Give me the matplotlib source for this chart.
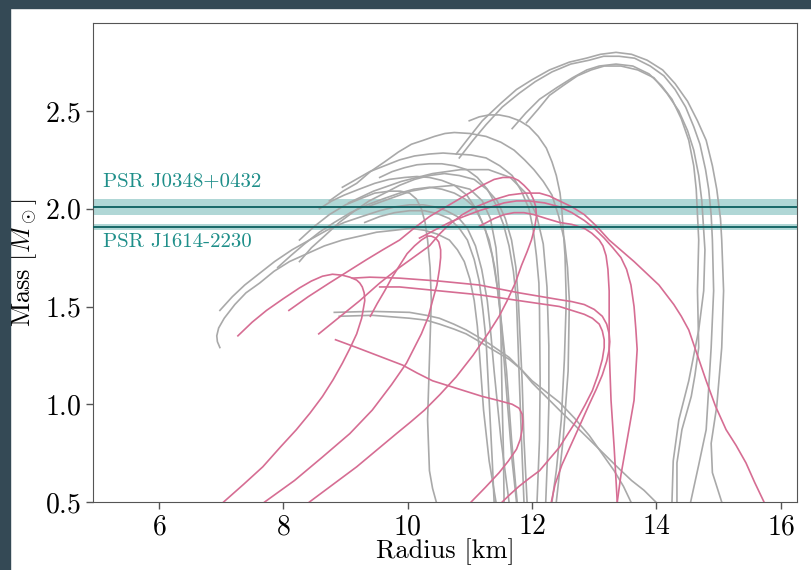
import matplotlib
matplotlib.use("Agg")
import matplotlib.pyplot as plt
from matplotlib.patches import Rectangle

plt.rcParams["font.family"] = "serif"
plt.rcParams["font.serif"] = ["cmr10"]
plt.rcParams["mathtext.fontset"] = "cm"
plt.rcParams["axes.formatter.use_mathtext"] = True

# mass-radius curves, radius in km and mass in solar masses
# grey: nucleonic models
gray_curves = [
    ([10.78, 11.00, 11.20, 11.50, 11.75, 12.00, 12.28, 12.60, 12.87, 13.10, 13.35, 13.60, 13.85, 14.10, 14.30, 14.50, 14.66, 14.80, 14.90, 14.97, 15.03, 15.05, 15.08, 15.05, 14.97, 14.88, 14.90, 15.05],
     [2.28, 2.37, 2.45, 2.54, 2.61, 2.66, 2.71, 2.75, 2.77, 2.79, 2.80, 2.79, 2.76, 2.71, 2.64, 2.55, 2.45, 2.35, 2.22, 2.10, 1.95, 1.84, 1.58, 1.29, 0.99, 0.80, 0.65, 0.50]),
    ([10.83, 11.05, 11.26, 11.52, 11.79, 12.05, 12.32, 12.62, 12.92, 13.15, 13.40, 13.65, 13.90, 14.12, 14.30, 14.47, 14.60, 14.70, 14.79, 14.84, 14.88, 14.90, 14.92, 14.88, 14.84, 14.80, 14.68, 14.55],
     [2.26, 2.35, 2.43, 2.52, 2.59, 2.65, 2.70, 2.74, 2.76, 2.78, 2.78, 2.77, 2.73, 2.68, 2.61, 2.52, 2.42, 2.33, 2.20, 2.10, 1.97, 1.84, 1.58, 1.29, 1.08, 0.87, 0.69, 0.50]),
    ([11.68, 11.90, 12.12, 12.40, 12.65, 12.88, 13.08, 13.35, 13.62, 13.88, 14.08, 14.25, 14.40, 14.52, 14.60, 14.64, 14.68, 14.66, 14.68, 14.62, 14.56, 14.41, 14.33, 14.33],
     [2.41, 2.49, 2.56, 2.62, 2.67, 2.71, 2.73, 2.74, 2.73, 2.69, 2.63, 2.56, 2.46, 2.35, 2.22, 2.10, 1.84, 1.58, 1.29, 1.15, 1.04, 0.87, 0.70, 0.50]),
    ([11.91, 12.10, 12.28, 12.50, 12.73, 12.95, 13.16, 13.43, 13.70, 13.96, 14.17, 14.36, 14.50, 14.60, 14.68, 14.73, 14.78, 14.76, 14.68, 14.60, 14.52, 14.36, 14.27, 14.25],
     [2.44, 2.51, 2.58, 2.63, 2.68, 2.71, 2.73, 2.73, 2.71, 2.67, 2.59, 2.50, 2.40, 2.30, 2.17, 2.04, 1.79, 1.58, 1.38, 1.25, 1.12, 0.92, 0.71, 0.50]),
    ([10.99, 11.15, 11.31, 11.47, 11.63, 11.80, 11.95, 12.10, 12.23, 12.32, 12.39, 12.45, 12.48, 12.53, 12.55, 12.52, 12.47, 12.39, 12.32],
     [2.45, 2.47, 2.48, 2.48, 2.47, 2.45, 2.42, 2.37, 2.31, 2.24, 2.17, 2.08, 1.99, 1.76, 1.53, 1.23, 0.92, 0.66, 0.50]),
    ([8.82, 9.43, 10.03, 10.30, 10.51, 10.74, 10.94, 11.13, 11.31, 11.47, 11.63, 11.82, 12.00, 12.22, 12.44, 12.68, 12.92, 13.16, 13.40, 13.60, 13.80, 13.99],
     [1.47, 1.475, 1.47, 1.455, 1.44, 1.41, 1.38, 1.345, 1.31, 1.275, 1.24, 1.18, 1.11, 1.04, 0.97, 0.895, 0.82, 0.745, 0.67, 0.61, 0.56, 0.50]),
    ([8.90, 9.43, 10.03, 10.30, 10.51, 10.74, 10.94, 11.13, 11.31, 11.47, 11.63, 11.82, 12.00, 12.22, 12.44, 12.68, 12.92, 13.12, 13.32, 13.47, 13.59],
     [1.45, 1.455, 1.44, 1.43, 1.41, 1.385, 1.36, 1.325, 1.29, 1.26, 1.23, 1.18, 1.12, 1.065, 1.01, 0.93, 0.84, 0.75, 0.66, 0.58, 0.50]),
    ([6.98, 6.94, 6.93, 6.96, 7.05, 7.22, 7.40, 7.62, 7.85, 8.10, 8.38, 8.66, 8.95, 9.23, 9.50, 9.79, 10.05, 10.27, 10.48, 10.67, 10.80, 10.91, 11.00, 11.07, 11.12, 11.15, 11.22, 11.31, 11.42],
     [1.29, 1.32, 1.35, 1.39, 1.44, 1.51, 1.57, 1.62, 1.68, 1.73, 1.77, 1.81, 1.84, 1.86, 1.88, 1.89, 1.90, 1.89, 1.87, 1.84, 1.79, 1.73, 1.64, 1.53, 1.40, 1.28, 0.97, 0.71, 0.50]),
    ([6.98, 7.18, 7.38, 7.62, 7.86, 8.14, 8.42, 8.70, 8.98, 9.26, 9.55, 9.80, 10.03, 10.25, 10.43, 10.62, 10.80, 10.96, 11.09, 11.19, 11.28, 11.34, 11.39, 11.50, 11.63],
     [1.48, 1.55, 1.61, 1.67, 1.73, 1.79, 1.84, 1.89, 1.93, 1.96, 1.99, 2.01, 2.02, 2.02, 2.01, 1.99, 1.96, 1.90, 1.81, 1.69, 1.53, 1.35, 1.17, 0.82, 0.50]),
    ([7.91, 8.12, 8.34, 8.58, 8.82, 9.08, 9.35, 9.60, 9.87, 10.10, 10.35, 10.55, 10.75, 10.92, 11.07, 11.20, 11.31, 11.40, 11.47, 11.53, 11.59, 11.67, 11.76],
     [1.70, 1.76, 1.82, 1.88, 1.93, 1.98, 2.02, 2.05, 2.08, 2.10, 2.11, 2.10, 2.08, 2.05, 2.01, 1.93, 1.84, 1.70, 1.53, 1.35, 1.17, 0.82, 0.50]),
    ([8.26, 8.45, 8.66, 8.90, 9.15, 9.38, 9.63, 9.87, 10.11, 10.35, 10.59, 10.83, 11.07, 11.27, 11.44, 11.57, 11.67, 11.74, 11.78, 11.84, 11.87, 11.92],
     [1.73, 1.80, 1.86, 1.93, 1.99, 2.04, 2.08, 2.12, 2.15, 2.17, 2.18, 2.17, 2.15, 2.10, 2.04, 1.95, 1.84, 1.70, 1.53, 1.12, 0.82, 0.50]),
    ([8.58, 8.78, 8.98, 9.22, 9.47, 9.70, 9.95, 10.15, 10.35, 10.55, 10.75, 10.95, 11.12, 11.25, 11.36, 11.44, 11.50, 11.60, 11.68, 11.75],
     [2.00, 2.04, 2.07, 2.10, 2.13, 2.15, 2.16, 2.165, 2.16, 2.145, 2.12, 2.07, 1.99, 1.89, 1.76, 1.60, 1.43, 1.02, 0.71, 0.50]),
    ([8.95, 9.17, 9.39, 9.63, 9.87, 10.11, 10.35, 10.57, 10.78, 11.02, 11.26, 11.48, 11.68, 11.83, 11.95, 12.02, 12.07, 12.11, 12.12, 12.13, 12.12, 12.08],
     [2.11, 2.15, 2.19, 2.22, 2.25, 2.27, 2.28, 2.285, 2.28, 2.275, 2.26, 2.22, 2.17, 2.09, 2.00, 1.89, 1.76, 1.62, 1.48, 1.12, 0.82, 0.50]),
    ([8.26, 8.50, 8.74, 9.00, 9.23, 9.47, 9.71, 9.88, 10.03, 10.14, 10.22, 10.28, 10.32, 10.36, 10.38, 10.35, 10.32, 10.35, 10.40, 10.46],
     [1.84, 1.91, 1.97, 2.02, 2.05, 2.08, 2.09, 2.09, 2.08, 2.05, 2.00, 1.93, 1.84, 1.70, 1.53, 1.23, 0.92, 0.66, 0.57, 0.50]),
    ([9.55, 9.75, 9.95, 10.15, 10.35, 10.55, 10.75, 10.95, 11.12, 11.28, 11.42, 11.54, 11.63, 11.70, 11.75, 11.79, 11.83, 11.87],
     [2.16, 2.19, 2.21, 2.225, 2.23, 2.23, 2.22, 2.20, 2.16, 2.10, 2.02, 1.92, 1.81, 1.68, 1.53, 1.17, 0.82, 0.50]),
    ([8.74, 8.96, 9.18, 9.40, 9.63, 9.85, 10.06, 10.25, 10.43, 10.60, 10.75, 11.00, 11.26, 11.50, 11.71, 11.88, 12.03, 12.18, 12.32, 12.43, 12.52, 12.57, 12.60, 12.58, 12.50, 12.39],
     [2.04, 2.09, 2.13, 2.19, 2.24, 2.29, 2.33, 2.35, 2.37, 2.385, 2.39, 2.385, 2.37, 2.34, 2.30, 2.25, 2.20, 2.14, 2.07, 1.96, 1.84, 1.70, 1.53, 1.17, 0.82, 0.50]),
    ([9.31, 9.55, 9.79, 10.03, 10.27, 10.48, 10.67, 10.83, 10.96, 11.07, 11.15, 11.21, 11.26, 11.31, 11.36, 11.39],
     [1.93, 1.96, 1.98, 1.99, 1.99, 1.975, 1.95, 1.90, 1.84, 1.74, 1.63, 1.48, 1.33, 1.02, 0.71, 0.50]),
    ([9.35, 9.70, 10.05, 10.40, 10.75, 11.00, 11.20, 11.33, 11.42, 11.47, 11.50, 11.52, 11.54, 11.55],
     [2.01, 2.05, 2.09, 2.11, 2.12, 2.10, 2.04, 1.95, 1.80, 1.60, 1.35, 1.00, 0.75, 0.50]),
    ([9.05, 9.45, 9.90, 10.40, 10.85, 11.30, 11.65, 11.90, 12.07, 12.18, 12.24, 12.27, 12.27, 12.25, 12.22],
     [2.03, 2.09, 2.14, 2.18, 2.20, 2.20, 2.16, 2.08, 1.97, 1.82, 1.60, 1.30, 1.00, 0.75, 0.50]),
]

# pink: models with a phase transition
pink_curves = [
    ([7.04, 7.36, 7.67, 7.95, 8.21, 8.43, 8.63, 8.80, 8.95, 9.07, 9.18, 9.26, 9.31, 9.30, 9.27, 9.23, 9.18, 9.07, 8.95, 8.79, 8.63, 8.45, 8.26, 8.00, 7.73, 7.50, 7.27],
     [0.50, 0.59, 0.68, 0.78, 0.87, 0.955, 1.04, 1.125, 1.21, 1.285, 1.36, 1.44, 1.53, 1.57, 1.60, 1.62, 1.635, 1.65, 1.66, 1.665, 1.655, 1.63, 1.595, 1.54, 1.48, 1.42, 1.35]),
    ([7.70, 8.18, 8.63, 9.07, 9.43, 9.74, 9.98, 10.22, 10.33, 10.40, 10.47, 10.51, 10.53, 10.53, 10.50, 10.45, 10.38, 10.32, 10.22, 10.11, 9.99, 9.87, 9.75, 9.63, 9.51, 9.40],
     [0.50, 0.61, 0.73, 0.85, 0.97, 1.10, 1.21, 1.36, 1.445, 1.53, 1.61, 1.69, 1.75, 1.79, 1.83, 1.85, 1.86, 1.86, 1.84, 1.81, 1.77, 1.71, 1.65, 1.58, 1.515, 1.45]),
    ([8.42, 8.80, 9.18, 9.50, 9.82, 10.05, 10.27, 10.52, 10.78, 11.05, 11.31, 11.47, 11.60, 11.73, 11.83, 11.92, 11.99, 12.04, 12.07, 12.06, 12.02, 11.96, 11.87, 11.78, 11.68, 11.53, 11.39, 11.20, 10.99, 10.67, 10.35, 10.10, 9.87, 9.60, 9.34, 9.04, 8.74, 8.40, 8.09],
     [0.50, 0.59, 0.68, 0.765, 0.85, 0.91, 0.97, 1.05, 1.14, 1.25, 1.37, 1.45, 1.53, 1.62, 1.71, 1.78, 1.84, 1.90, 1.96, 2.01, 2.05, 2.09, 2.12, 2.145, 2.16, 2.16, 2.15, 2.12, 2.08, 2.02, 1.96, 1.90, 1.84, 1.79, 1.74, 1.68, 1.62, 1.55, 1.48]),
    ([11.02, 11.25, 11.47, 11.62, 11.75, 11.81, 11.84, 11.85, 11.84, 11.79, 11.68, 11.45, 11.20, 10.80, 10.40, 10.15, 9.92, 9.55, 9.18, 8.84],
     [0.50, 0.575, 0.65, 0.71, 0.77, 0.82, 0.87, 0.91, 0.95, 0.98, 1.00, 1.02, 1.04, 1.08, 1.12, 1.16, 1.20, 1.245, 1.29, 1.33]),
    ([12.31, 12.37, 12.48, 12.58, 12.68, 12.80, 12.92, 13.03, 13.13, 13.20, 13.24, 13.25, 13.24, 13.20, 13.13, 13.00, 12.84, 12.64, 12.44, 11.79, 11.15, 10.51, 9.87, 9.39, 9.11],
     [0.50, 0.59, 0.69, 0.76, 0.83, 0.915, 1.00, 1.075, 1.15, 1.22, 1.28, 1.32, 1.36, 1.41, 1.45, 1.485, 1.51, 1.525, 1.535, 1.57, 1.61, 1.63, 1.645, 1.65, 1.645]),
    ([11.52, 11.65, 11.79, 11.95, 12.12, 12.28, 12.44, 12.58, 12.72, 12.85, 12.97, 13.06, 13.13, 13.16, 13.16, 13.13, 13.08, 12.97, 12.84, 12.64, 12.44, 11.79, 11.15, 10.51, 9.87, 9.55],
     [0.50, 0.54, 0.58, 0.62, 0.66, 0.72, 0.78, 0.85, 0.92, 0.995, 1.07, 1.15, 1.23, 1.29, 1.33, 1.375, 1.41, 1.44, 1.46, 1.48, 1.50, 1.53, 1.56, 1.58, 1.60, 1.60]),
    ([13.37, 13.32, 13.27, 13.24, 13.24, 13.22, 13.19, 13.14, 13.08, 12.96, 12.84, 12.64, 12.44, 12.23, 12.03, 11.87, 11.71, 11.55, 11.39, 11.15],
     [0.50, 0.78, 1.02, 1.28, 1.58, 1.69, 1.76, 1.81, 1.84, 1.875, 1.90, 1.92, 1.93, 1.95, 1.97, 1.98, 1.98, 1.97, 1.95, 1.91]),
    ([13.37, 13.43, 13.53, 13.64, 13.69, 13.67, 13.64, 13.59, 13.52, 13.43, 13.30, 13.16, 13.00, 12.84, 12.64, 12.44, 12.20, 11.95, 11.75, 11.55, 11.35, 11.15, 10.90, 10.67, 10.43, 10.19],
     [0.50, 0.64, 0.82, 1.02, 1.28, 1.38, 1.50, 1.61, 1.69, 1.75, 1.80, 1.85, 1.90, 1.94, 1.98, 2.01, 2.03, 2.04, 2.04, 2.03, 2.01, 1.99, 1.96, 1.93, 1.89, 1.85]),
    ([15.73, 15.58, 15.44, 15.28, 15.12, 14.95, 14.80, 14.66, 14.52, 14.40, 14.28, 14.16, 14.04, 13.84, 13.64, 13.44, 13.24, 13.04, 12.84, 12.64, 12.44, 12.28, 12.12, 11.88, 11.63, 11.37, 11.10, 10.88, 10.67, 10.51, 10.35, 10.11, 9.87, 9.55, 9.23, 8.90, 8.57],
     [0.50, 0.60, 0.70, 0.79, 0.87, 0.99, 1.12, 1.25, 1.38, 1.45, 1.51, 1.56, 1.61, 1.67, 1.73, 1.785, 1.84, 1.91, 1.97, 2.01, 2.04, 2.065, 2.08, 2.08, 2.07, 2.045, 2.01, 1.97, 1.92, 1.87, 1.81, 1.755, 1.70, 1.62, 1.53, 1.445, 1.36]),
]

# pulsar mass measurements: name, mass, uncertainty
pulsars = ["PSR J0348+0432", "PSR J1614-2230"]
pulsar_mass = [2.01, 1.908]
pulsar_err = [0.04, 0.016]

gray = "#a9a9a9"
pink = "#d66d93"
teal = "#1f8f8a"

fig = plt.figure(figsize=(8.11, 5.70), dpi=100)
ax = fig.add_axes([0.1147, 0.1193, 0.8680, 0.8403])

for r, m in gray_curves:
    ax.plot(r, m, color=gray, lw=1.2, zorder=2, solid_joinstyle="round")
for r, m in pink_curves:
    ax.plot(r, m, color=pink, lw=1.2, zorder=3, solid_joinstyle="round")

for mass, err in zip(pulsar_mass, pulsar_err):
    ax.axhspan(mass - err, mass + err, color=teal, alpha=0.35, lw=0, zorder=1)
    ax.axhline(mass, color="#0b5f5f", lw=1.3, zorder=4)

ax.text(5.10, 2.095, pulsars[0], color=teal, fontsize=15, ha="left", va="bottom")
ax.text(5.10, 1.875, pulsars[1], color=teal, fontsize=15, ha="left", va="top")

ax.set_xlim(4.94, 16.26)
ax.set_ylim(0.5, 2.95)
ax.set_xticks([6, 8, 10, 12, 14, 16])
ax.set_yticks([0.5, 1.0, 1.5, 2.0, 2.5])
ax.tick_params(labelsize=20, length=5, width=1, color="#555555")
ax.set_xlabel("Radius [km]", fontsize=19, labelpad=-1)
ax.set_ylabel(r"Mass [$M_\odot$]", fontsize=19, labelpad=4)
for s in ax.spines.values():
    s.set_color("#555555")

# dark frame strips along the top and left edge
fig.patches.append(Rectangle((0, 1 - 8 / 570), 1, 8 / 570, transform=fig.transFigure,
                             color="#344955", zorder=0))
fig.patches.append(Rectangle((0, 0), 10 / 811, 1, transform=fig.transFigure,
                             color="#344955", zorder=0))

fig.savefig("out.png", dpi=100)
